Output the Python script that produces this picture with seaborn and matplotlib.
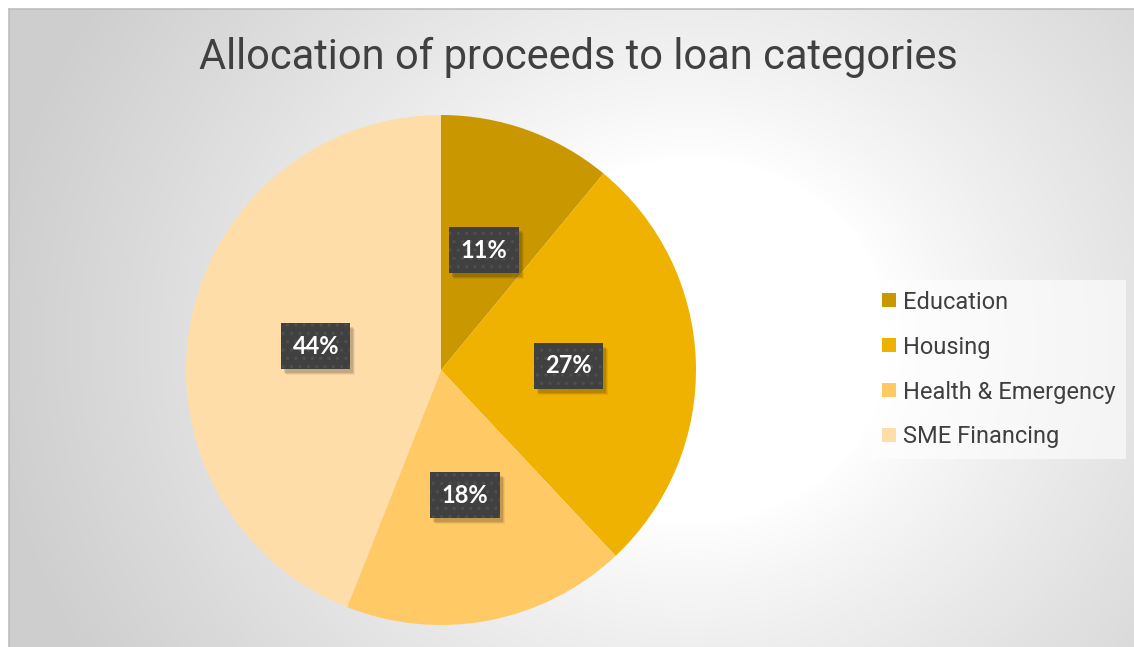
import numpy as np
import matplotlib
matplotlib.use('Agg')
import matplotlib.pyplot as plt
from matplotlib.patches import Rectangle
from matplotlib.transforms import IdentityTransform
from matplotlib.lines import Line2D
import seaborn as sns

# data
categories = ['Education', 'Housing', 'Health & Emergency', 'SME Financing']
shares = [11, 27, 18, 44]
colors = ['#C99700', '#EFB200', '#FFC966', '#FFDDA8']
title = 'Allocation of proceeds to loan categories'

sns.set_theme(style='white')
plt.rcParams['font.family'] = ['Roboto', 'DejaVu Sans']
plt.rcParams['hatch.linewidth'] = 1.2

W, H = 1134, 647
fig = plt.figure(figsize=(W / 100, H / 100), dpi=100, facecolor='white')

# background: radial grey gradient in the chart area
bg = fig.add_axes([9 / W, 0, 1 - 9 / W, 1 - 9 / H])
yy, xx = np.mgrid[9:H, 9:W]
d = np.hypot(xx - 690, (yy - 340) * 1.1)
t = np.clip((d - 200) / 500, 0, 1) ** 0.85
shade = 1 - 0.19 * t
img = np.dstack([shade, shade, shade])
bg.imshow(img, aspect='auto', interpolation='bilinear')
bg.set_xticks([])
bg.set_yticks([])
for s in ['right', 'bottom']:
    bg.spines[s].set_visible(False)
for s in ['left', 'top']:
    bg.spines[s].set_color('#bdbdbd')
    bg.spines[s].set_linewidth(1.2)

# pie
cx, cy, r = 441, 370, 255
ax = fig.add_axes([(cx - r) / W, (H - cy - r) / H, 2 * r / W, 2 * r / H])
ax.set_facecolor('none')
wedges, texts, autotexts = ax.pie(
    shares, colors=colors, startangle=90, counterclock=False,
    autopct='%1.0f%%', pctdistance=0.5, radius=1,
    wedgeprops=dict(linewidth=0),
    textprops=dict(color='white', zorder=5, fontsize=17, fontweight='bold',
                   family=['Lato', 'DejaVu Sans']))
ax.set_xlim(-1, 1)
ax.set_ylim(-1, 1)
ax.axis('off')

for at in autotexts:
    at.set_bbox(dict(boxstyle='square,pad=0.48', facecolor='#404040', edgecolor='#4e4e4e',
                     linewidth=0, hatch='..'))

# title
fig.text(578 / W, 1 - 57 / H, title, ha='center', va='center', fontsize=30, color='#404040')

# legend
handles = [Line2D([0], [0], marker='s', linestyle='none', markersize=9.5,
                  markerfacecolor=c, markeredgewidth=0) for c in colors]
leg = fig.legend(handles, categories, loc='upper left', bbox_to_anchor=(871 / W, 1 - 280 / H),
                 frameon=True, fancybox=False, framealpha=0.6, facecolor='white', edgecolor='none',
                 fontsize=17, labelcolor='#404040', handlelength=0.6, handletextpad=0.3,
                 labelspacing=0.93, borderpad=0.45, borderaxespad=0)

# soft drop shadow behind each label box
fig.canvas.draw()
for at in autotexts:
    bb = at.get_bbox_patch().get_window_extent()
    for k, a in [(5, 0.06), (4, 0.08), (3, 0.12)]:
        ax.add_patch(Rectangle((bb.x0 + k, bb.y0 - k - 1), bb.width, bb.height,
                               transform=IdentityTransform(), facecolor='black',
                               alpha=a, linewidth=0, zorder=4))

fig.savefig('out.png', dpi=100)
